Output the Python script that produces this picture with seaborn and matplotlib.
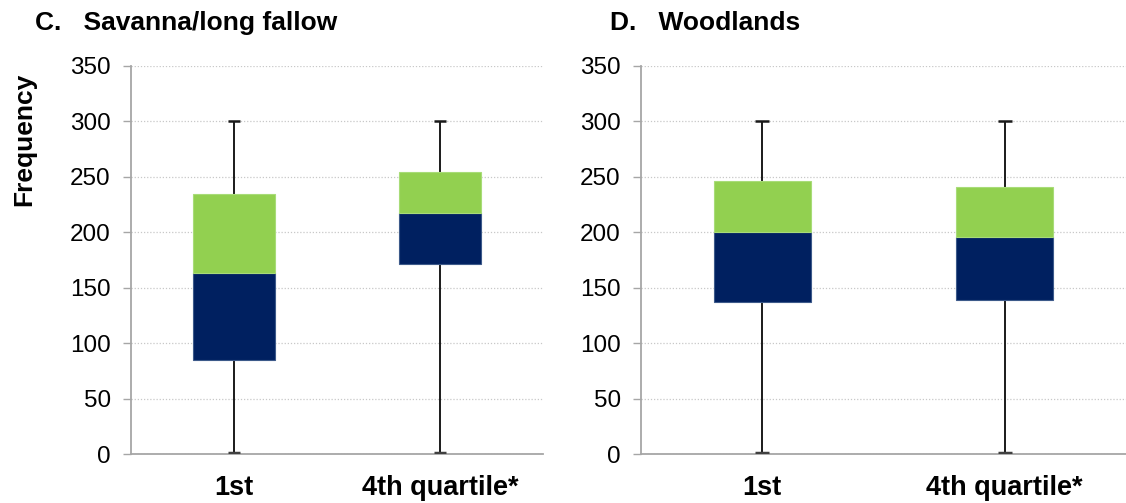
import matplotlib
matplotlib.use("Agg")
import matplotlib.pyplot as plt
import seaborn as sns
import numpy as np

# ---- data ----
categories = ["1st", "4th quartile*"]
panel_titles = ["C.   Savanna/long fallow", "D.   Woodlands"]
whisker_low = [[0, 0], [0, 0]]
whisker_high = [[300, 300], [300, 300]]
q1_values = [[85, 171], [137, 139]]
median_values = [[163.5, 217.5], [200.5, 195.5]]
q3_values = [[234, 254.5], [245.8, 240.4]]
y_ticks = [0, 50, 100, 150, 200, 250, 300, 350]
y_label = "Frequency"

NAVY = "#002060"
GREEN = "#92D050"
AXIS_GRAY = "#A6A6A6"

sns.set_theme(style="white")
plt.rcParams["font.family"] = ["Liberation Sans", "DejaVu Sans"]

fig = plt.figure(figsize=(11.26, 5.03), dpi=100)
W, H = 1126, 503
ax_boxes = [
    [131 / W, 1 - 454.3 / H, (543 - 131) / W, (454.3 - 65.6) / H],
    [641 / W, 1 - 454.3 / H, (1126 - 641) / W, (454.3 - 65.6) / H],
]
xlims = [(-0.5, 1.5), (-0.5, 1.488)]

for p in range(2):
    ax = fig.add_axes(ax_boxes[p])
    ax.set_facecolor("white")
    q1 = np.array(q1_values[p], dtype=float)
    med = np.array(median_values[p], dtype=float)
    q3 = np.array(q3_values[p], dtype=float)
    lo = np.array(whisker_low[p], dtype=float)
    hi = np.array(whisker_high[p], dtype=float)

    # gridlines
    ax.set_axisbelow(True)
    ax.yaxis.grid(True, linestyle=(0, (1, 1.5)), color="#C8C8C8", linewidth=0.9)

    # whiskers (drawn first, behind boxes)
    xpos = np.arange(len(categories))
    ax.vlines(xpos, lo, hi, color="#1a1a1a", linewidth=1.4, zorder=2)
    ax.hlines(hi, xpos - 0.028, xpos + 0.028, color="#1a1a1a", linewidth=1.8, zorder=2)
    ax.hlines(lo + 1.2, xpos - 0.028, xpos + 0.028, color="#404040", linewidth=2.5, zorder=5)

    # lower box part: Q1 -> median (navy)
    sns.barplot(x=categories, y=med - q1, bottom=q1, color=NAVY, saturation=1,
                width=0.4, ax=ax, zorder=3, linewidth=0.8, edgecolor="#3d5a8a")
    # upper box part: median -> Q3 (green)
    sns.barplot(x=categories, y=q3 - med, bottom=med, color=GREEN, saturation=1,
                width=0.4, ax=ax, zorder=3, linewidth=0.8, edgecolor="#a8dc78")

    ax.set_ylim(0, 350)
    ax.set_xlim(*xlims[p])
    ax.set_yticks(y_ticks)
    ax.set_yticklabels([str(v) for v in y_ticks], fontsize=17.5, color="black")
    ax.set_xticks(xpos)
    ax.set_xticklabels(categories, fontsize=19.5, fontweight="bold", color="black")
    ax.tick_params(axis="x", length=0, pad=15)
    ax.set_xticks([-0.5, 0.5, 1.5], minor=True)
    ax.tick_params(axis="x", which="minor", length=6, width=1, color=AXIS_GRAY, direction="out")
    ax.tick_params(axis="y", length=6, width=1, color=AXIS_GRAY, direction="out", pad=8.5, left=True)
    ax.set_xlabel("")
    ax.set_ylabel("")
    for s in ["top", "right"]:
        ax.spines[s].set_visible(False)
    for s in ["left", "bottom"]:
        ax.spines[s].set_color(AXIS_GRAY)
        ax.spines[s].set_linewidth(1.3)
    ax.spines["bottom"].set_zorder(4)

fig.text(35 / W, 1 - 30 / H, panel_titles[0], fontsize=19, fontweight="bold",
         ha="left", va="baseline", color="black")
fig.text(610 / W, 1 - 30 / H, panel_titles[1], fontsize=19, fontweight="bold",
         ha="left", va="baseline", color="black")
fig.text(24 / W, 1 - 139 / H, y_label, fontsize=19, fontweight="bold", rotation=90,
         ha="center", va="center", color="black")

fig.savefig("out.png", dpi=100, facecolor="white")
